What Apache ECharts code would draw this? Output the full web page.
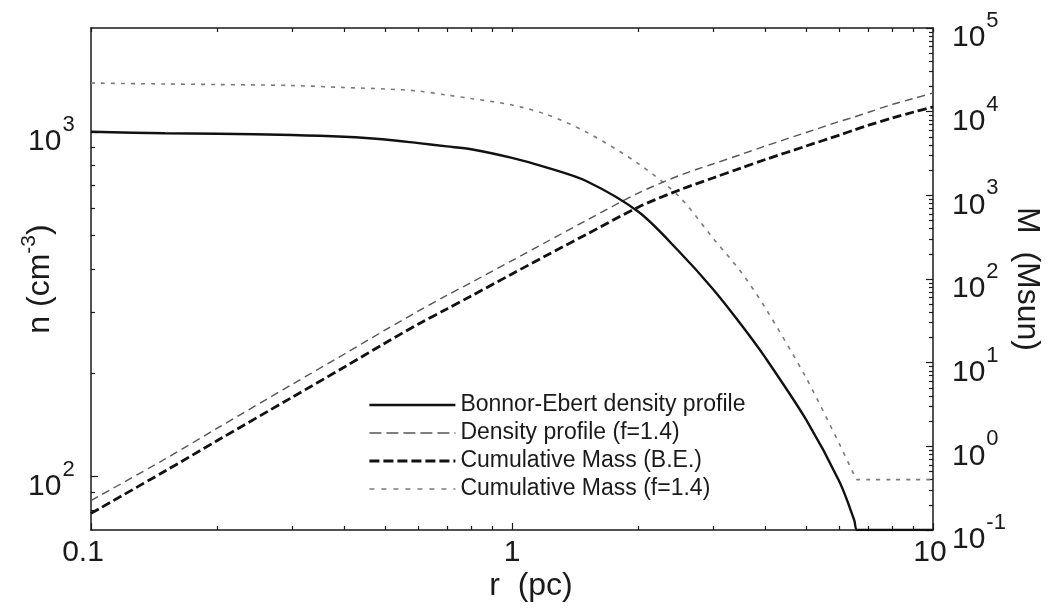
<!DOCTYPE html>
<html>
<head>
<meta charset="utf-8">
<script src="https://cdn.jsdelivr.net/npm/echarts@6/dist/echarts.min.js"></script>
<style>
  html, body { margin: 0; padding: 0; background: #ffffff; }
  #chart { width: 1055px; height: 610px; }
</style>
</head>
<body>
<div id="chart"></div>
<script>
// Radii (pc) at which the density profiles are sampled
const radiusDensity = [0.1, 0.15, 0.2, 0.3, 0.4, 0.5, 0.6, 0.7, 0.8, 1.0, 1.2, 1.5, 2.0, 2.5, 3.0, 3.5, 4.0, 5.0, 6.0, 6.5, 6.6, 7.0, 8.0, 9.0, 10];
// Bonnor-Ebert density n (cm^-3), floored at the ambient value beyond the edge
const densityBE = [1000, 990, 987, 979, 967, 950, 927, 907, 890, 840, 790, 720, 585, 448, 350, 276, 221, 146, 96.4, 74.8, 70, 70, 70, 70, 70];
// Density scaled by f = 1.4
const densityF14 = [1385, 1376, 1371, 1362, 1344, 1331, 1313, 1278, 1249, 1196, 1126, 999, 807, 647, 492, 392, 308, 193, 124, 101, 98, 98, 98, 98, 98];

// Radii (pc) at which the cumulative masses are sampled
const radiusMass = [0.1, 0.15, 0.2, 0.3, 0.4, 0.5, 0.6, 0.7, 0.8, 1.0, 1.2, 1.5, 2.0, 2.5, 3.0, 3.5, 4.0, 5.0, 6.0, 6.5, 7.0, 8.0, 9.0, 10];
// Cumulative mass (Msun), Bonnor-Ebert sphere
const massBE = [0.158, 0.507, 1.18, 3.84, 8.88, 17.2, 29.0, 43.8, 62.7, 115, 188, 340, 726, 1160, 1610, 2120, 2680, 3890, 5260, 6040, 6840, 8400, 9910, 11400];
// Cumulative mass (Msun), f = 1.4
const massF14 = [0.225, 0.706, 1.66, 5.48, 12.7, 24.6, 41.5, 63.6, 90.8, 166, 273, 500, 1070, 1730, 2370, 3080, 3890, 5640, 7640, 8630, 9770, 12200, 14400, 16700];

// Legend entries
const seriesNames = [
  'Bonnor-Ebert density profile',
  'Density profile (f=1.4)',
  'Cumulative Mass (B.E.)',
  'Cumulative Mass (f=1.4)'
];

// Labelled (major) ticks
const radiusTicks = [0.1, 1, 10];
const densityTicks = [100, 1000];
const massTicks = [0.1, 1, 10, 100, 1000, 10000, 100000];

// Minor ticks: 2..9 times each decade, kept strictly inside (lo, hi)
function minorTicks(lo, hi) {
  const out = [];
  for (let e = -3; e <= 6; e++) {
    for (let k = 2; k <= 9; k++) {
      const v = +(k * Math.pow(10, e)).toPrecision(3);
      if (v > lo && v < hi) out.push(v);
    }
  }
  return out;
}

const FONT = '"Liberation Sans", Arial, Helvetica, sans-serif';
const INK = '#1a1a1a';
const AXIS_W = 1.5;
const TICK_FS = 30;
const NAME_FS = 32;

const pairs = (xs, ys) => xs.map((x, i) => [x, ys[i]]);

// Line styles for each curve in the plot area
const styles = {
  solid:  { color: '#111111', width: 2.4, type: 'solid' },
  thin:   { color: '#555555', width: 1.4, type: [8, 5] },
  thick:  { color: '#111111', width: 2.8, type: [9, 4] },
  dotted: { color: '#7a7a7a', width: 1.6, type: [4, 6] }
};
// Same styles as drawn in the legend key
const legendStyles = {
  solid:  { color: '#111111', width: 2.4, type: 'solid' },
  thin:   { color: '#555555', width: 1.4, type: [12, 5] },
  thick:  { color: '#111111', width: 2.8, type: [10, 4] },
  dotted: { color: '#7a7a7a', width: 1.6, type: [5, 7] }
};

// "10^k" labels: base and exponent, with a spacer token setting the line box
const powLabelRich = {
  b: { fontSize: TICK_FS, lineHeight: 34, verticalAlign: 'bottom', fontFamily: FONT, color: INK },
  s: { fontSize: 22, lineHeight: 34, verticalAlign: 'top', padding: [7, 0, 0, 1], fontFamily: FONT, color: INK },
  h: { fontSize: 1, lineHeight: 50, fontFamily: FONT, color: INK }
};
function powLabel(v) {
  const e = Math.round(Math.log10(v));
  return '{b|10}{s|' + e + '}{h| }';
}

function logAxis(extra) {
  return Object.assign({
    type: 'log',
    logBase: 10,
    splitLine: { show: false },
    minorTick: { show: false },
    minorSplitLine: { show: false }
  }, extra);
}

const gridRect = { left: 91, right: 122, top: 28, bottom: 80, outerBoundsMode: 'none', containLabel: false };
const tickLine = { color: INK, width: 1.2 };
const smoothing = 0.3;

const option = {
  animation: false,
  backgroundColor: '#ffffff',
  textStyle: { fontFamily: FONT, color: INK },
  grid: [
    Object.assign({}, gridRect),
    Object.assign({}, gridRect)
  ],
  legend: {
    orient: 'vertical',
    left: 368,
    top: 391,
    padding: 0,
    itemWidth: 86,
    itemHeight: 14,
    itemGap: 0,
    selectedMode: false,
    itemStyle: { opacity: 0 },
    textStyle: { fontSize: 23, lineHeight: 28, color: INK, fontFamily: FONT },
    data: [
      { name: seriesNames[0], lineStyle: legendStyles.solid },
      { name: seriesNames[1], lineStyle: legendStyles.thin },
      { name: seriesNames[2], lineStyle: legendStyles.thick },
      { name: seriesNames[3], lineStyle: legendStyles.dotted }
    ]
  },
  xAxis: [
    logAxis({
      gridIndex: 0, position: 'bottom', min: 0.1, max: 10,
      axisLine: { show: true, lineStyle: { color: INK, width: AXIS_W } },
      axisTick: { show: true, inside: true, length: 7, customValues: radiusTicks, lineStyle: tickLine },
      axisLabel: {
        show: true, margin: 8, customValues: radiusTicks,
        formatter: v => (v < 0.5 ? '{l|0.1}' : v > 5 ? '{r|10}' : '{c|1}'),
        rich: {
          l: { fontSize: TICK_FS, fontFamily: FONT, color: INK, padding: [0, 16, 0, 0] },
          c: { fontSize: TICK_FS, fontFamily: FONT, color: INK },
          r: { fontSize: TICK_FS, fontFamily: FONT, color: INK, padding: [0, 6, 0, 0] }
        }
      },
      name: 'r  (pc)', nameLocation: 'middle', nameGap: 40, nameMoveOverlap: false,
      nameTextStyle: { fontSize: NAME_FS, fontFamily: FONT, color: INK, padding: [0, 0, 0, 38] }
    }),
    logAxis({
      gridIndex: 0, position: 'top', min: 0.1, max: 10,
      axisLine: { show: true, lineStyle: { color: INK, width: AXIS_W } },
      axisTick: { show: true, inside: true, length: 4, customValues: radiusTicks.concat(minorTicks(0.1, 10)), lineStyle: tickLine },
      axisLabel: { show: false }
    }),
    logAxis({
      gridIndex: 1, position: 'bottom', min: 0.1, max: 10,
      axisLine: { show: false },
      axisTick: { show: true, inside: true, length: 4, customValues: minorTicks(0.1, 10), lineStyle: tickLine },
      axisLabel: { show: false }
    })
  ],
  yAxis: [
    logAxis({
      gridIndex: 0, position: 'left', min: 70, max: 2000,
      axisLine: { show: true, lineStyle: { color: INK, width: AXIS_W } },
      axisTick: { show: true, inside: true, length: 7, customValues: densityTicks, lineStyle: tickLine },
      axisLabel: { show: true, margin: 16, customValues: densityTicks, formatter: powLabel, rich: powLabelRich },
      name: 'n (cm{s|-3})', nameLocation: 'middle', nameGap: 30, nameRotate: 90, nameMoveOverlap: false,
      nameTextStyle: {
        fontSize: NAME_FS, fontFamily: FONT, color: INK,
        rich: { s: { fontSize: 21, lineHeight: 42, verticalAlign: 'top', fontFamily: FONT, color: INK } }
      }
    }),
    logAxis({
      gridIndex: 0, position: 'right', min: 0.1, max: 100000,
      axisLine: { show: true, lineStyle: { color: INK, width: AXIS_W } },
      axisTick: { show: true, inside: true, length: 7, customValues: massTicks, lineStyle: tickLine },
      axisLabel: { show: true, margin: 19, customValues: massTicks, formatter: powLabel, rich: powLabelRich },
      name: 'M  (Msun)', nameLocation: 'middle', nameGap: 78, nameRotate: -90, nameMoveOverlap: false,
      nameTextStyle: { fontSize: NAME_FS, fontFamily: FONT, color: INK }
    }),
    logAxis({
      gridIndex: 1, position: 'left', min: 70, max: 2000,
      axisLine: { show: false },
      axisTick: { show: true, inside: true, length: 4, customValues: minorTicks(70, 2000), lineStyle: tickLine },
      axisLabel: { show: false }
    }),
    logAxis({
      gridIndex: 1, position: 'right', min: 0.1, max: 100000,
      axisLine: { show: false },
      axisTick: { show: true, inside: true, length: 4, customValues: minorTicks(0.1, 100000), lineStyle: tickLine },
      axisLabel: { show: false }
    })
  ],
  series: [
    {
      name: seriesNames[0], type: 'line', xAxisIndex: 0, yAxisIndex: 0,
      data: pairs(radiusDensity, densityBE), symbol: 'none', showSymbol: false, smooth: smoothing,
      lineStyle: styles.solid, itemStyle: { color: styles.solid.color }, z: 4
    },
    {
      name: seriesNames[1], type: 'line', xAxisIndex: 0, yAxisIndex: 1,
      data: pairs(radiusMass, massF14), symbol: 'none', showSymbol: false, smooth: smoothing,
      lineStyle: styles.thin, itemStyle: { color: styles.thin.color }, z: 3
    },
    {
      name: seriesNames[2], type: 'line', xAxisIndex: 0, yAxisIndex: 1,
      data: pairs(radiusMass, massBE), symbol: 'none', showSymbol: false, smooth: smoothing,
      lineStyle: styles.thick, itemStyle: { color: styles.thick.color }, z: 3
    },
    {
      name: seriesNames[3], type: 'line', xAxisIndex: 0, yAxisIndex: 0,
      data: pairs(radiusDensity, densityF14), symbol: 'none', showSymbol: false, smooth: smoothing,
      lineStyle: styles.dotted, itemStyle: { color: styles.dotted.color }, z: 2
    }
  ]
};

const chart = echarts.init(document.getElementById('chart'), null, { renderer: 'canvas' });
chart.setOption(option);
</script>
</body>
</html>
